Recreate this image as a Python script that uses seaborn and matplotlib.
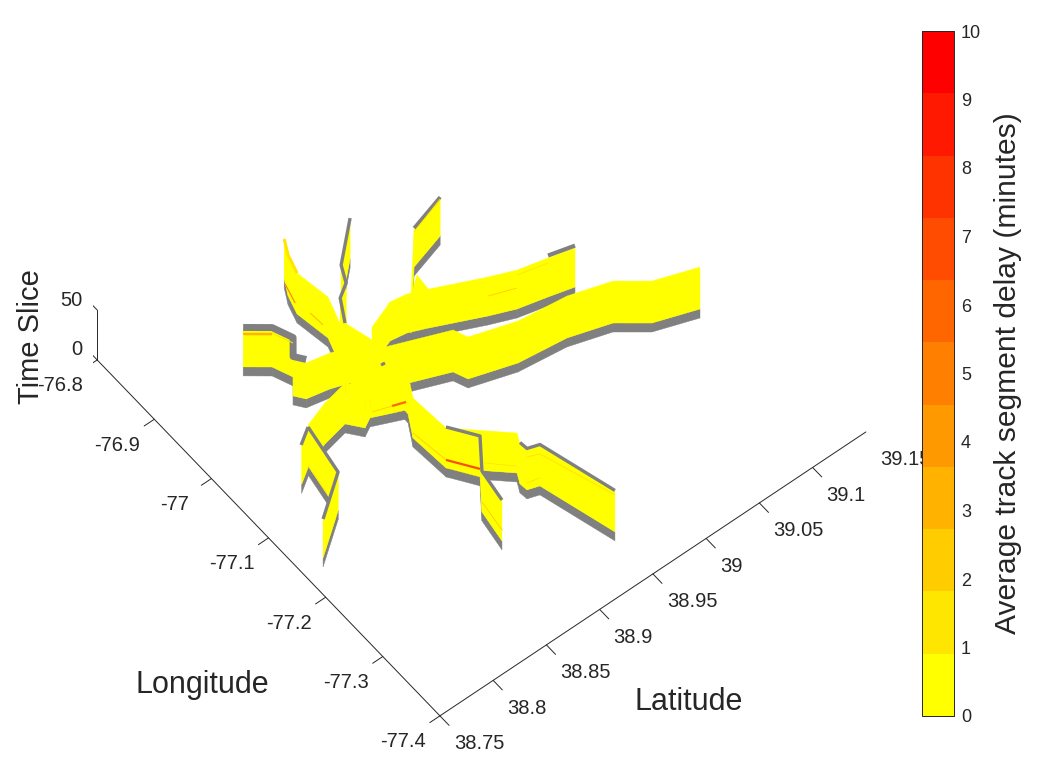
import numpy as np
import matplotlib
matplotlib.use('Agg')
import matplotlib.pyplot as plt
from matplotlib.cm import ScalarMappable
from matplotlib.colors import ListedColormap, Normalize
from mpl_toolkits.mplot3d import proj3d
from mpl_toolkits.mplot3d.art3d import Poly3DCollection
import seaborn as sns

###########################################################################
# Data
###########################################################################

lat_ticks = [38.75, 38.8, 38.85, 38.9, 38.95, 39, 39.05, 39.1, 39.15]
lat_labels = ['38.75', '38.8', '38.85', '38.9', '38.95', '39', '39.05', '39.1', '39.15']
lon_ticks = [-77.4, -77.3, -77.2, -77.1, -77, -76.9, -76.8]
lon_labels = ['-77.4', '-77.3', '-77.2', '-77.1', '-77', '-76.9', '-76.8']
time_ticks = [0, 50]
time_labels = ['0', '50']
delay_ticks = list(range(11))

# track centre lines
lat_a = [39.1179, 39.0827, 39.0604, 39.0259, 38.9841, 38.9467, 38.9420, 38.9136, 38.8937]
lon_a = [-77.1695, -77.1510, -77.1243, -77.1082, -77.1004, -77.0826, -77.0651, -77.0480, -77.0360]
lat_b = [39.0585, 39.0376, 39.0133, 38.9928, 38.9525, 38.9372, 38.9230, 38.8990, 38.8937]
lon_b = [-77.0614, -77.0531, -77.0443, -77.0316, -77.0035, -76.9936, -76.9902, -77.0036, -77.0360]
lat_c = [39.0095, 38.9775, 38.9394]
lon_c = [-76.9167, -76.9307, -76.9964]
lat_c2 = [38.9394, 38.9539, 38.9525]
lon_c2 = [-76.9964, -76.9799, -77.0018]
lat_d = [38.9453, 38.9143, 38.9072, 38.8956, 38.8846, 38.8937]
lon_d = [-76.8787, -76.9208, -76.9427, -76.9540, -76.9830, -77.0360]
lat_e = [38.8247, 38.8412, 38.8477, 38.8373, 38.8431, 38.8623, 38.8821, 38.8937]
lon_e = [-76.9163, -76.9362, -76.9608, -76.9803, -76.9923, -76.9984, -77.0087, -77.0360]
lat_f = [38.8966, 38.8895, 38.8847, 38.8873, 38.8892, 38.8796, 38.8937]
lon_f = [-76.8541, -76.8742, -76.8989, -76.9256, -76.9447, -76.9888, -77.0360]
lat_h = [38.8937, 38.8616]
lon_h = [-77.0360, -77.0347]
lat_g = [38.8937, 38.8947, 38.8692, 38.8608, 38.8516, 38.8291, 38.8073]
lon_g = [-77.0360, -77.0726, -77.0555, -77.0624, -77.0446, -77.0514, -77.0624]
lat_g1 = [38.8073, 38.7997, 38.7652]
lon_g1 = [-77.0624, -77.1291, -77.1671]
lat_g2 = [38.8073, 38.7934]
lon_g2 = [-77.0624, -77.0761]
lat_i = [38.8937, 38.8931, 38.8827, 38.8851, 38.8996, 38.8814, 38.8769]
lon_i = [-77.0360, -77.0774, -77.1055, -77.1588, -77.1913, -77.2286, -77.2721]
lat_k = [38.8851, 38.9229, 38.9186, 38.9193, 38.9289, 38.9465]
lon_k = [-77.1588, -77.2126, -77.2259, -77.2368, -77.2416, -77.3401]

# far to near, with the height of the yellow part of each track
tracks = [(lat_d, lon_d, 50), (lat_f, lon_f, 50), (lat_c, lon_c, 47), (lat_c2, lon_c2, 47),
          (lat_b, lon_b, 48), (lat_a, lon_a, 51), (lat_e, lon_e, 45), (lat_k, lon_k, 49),
          (lat_h, lon_h, 50), (lat_g, lon_g, 50), (lat_g2, lon_g2, 47), (lat_g1, lon_g1, 47),
          (lat_i, lon_i, 49)]

# segments with a delay: lat, lon, time slice, minutes, line width
segments = [
    ([38.8247, 38.8412], [-76.9163, -76.9362], [42, 42], 3, 1.8),
    ([38.8412, 38.8477], [-76.9362, -76.9608], [43, 43], 1, 0.7),
    ([38.8966, 38.8895, 38.8847], [-76.8541, -76.8742, -76.8989], [49, 50, 50], 1, 2.2),
    ([38.8949, 38.8858], [-76.8588, -76.8934], [8, 16], 5, 0.8),
    ([38.8867, 38.8886], [-76.9180, -76.9372], [20, 18], 3, 0.7),
    ([38.8845, 38.8942], [-77.0655, -77.0720], [16, 17], 6, 1.6),
    ([38.8714, 38.8845], [-77.0549, -77.0655], [13, 16], 2, 0.6),
    ([38.8851, 38.8996], [-77.1588, -77.1913], [17, 17], 7, 1.6),
    ([38.8827, 38.8851], [-77.1055, -77.1588], [14, 17], 2, 0.6),
    ([38.9046, 38.9229], [-77.1872, -77.2126], [17, 16], 1, 0.6),
    ([38.8814, 38.8769], [-77.2286, -77.2721], [19, 20], 2, 0.6),
    ([38.9289, 38.9465], [-77.2416, -77.3401], [41, 46], 1, 0.7),
    ([38.9193, 38.9289], [-77.2368, -77.2416], [42, 41], 1, 0.7),
    ([38.9193, 38.9289], [-77.2368, -77.2416], [16, 17], 1, 0.7),
    ([38.8073, 38.8027], [-77.0624, -77.1041], [9, 10], 1, 0.6),
    ([39.0376, 39.0133], [-77.0531, -77.0443], [43, 43], 1, 0.6),
    ([39.0133, 38.9928], [-77.0443, -77.0316], [30, 29], 2, 0.6),
    ([39.0095, 38.9775], [-76.9167, -76.9307], [46, 44], 1, 0.7),
]

# grey upper edges: lat, lon, time slice, line width
top_edges = [
    (lat_e[:5], lon_e[:5], 48.5, 5),
    (lat_d[:5], lon_d[:5], 50, 2.4),
    (lat_c[:2], lon_c[:2], 48, 2.6),
    (lat_b[:2], lon_b[:2], 50.5, 3),
    (lat_g1, lon_g1, 48, 2.4),
    (lat_g2, lon_g2, 48, 2.4),
    (lat_i[3:], lon_i[3:], 50, 2.4),
    (lat_k[2:], lon_k[2:], 50.5, 2.4),
    ([38.8903, 38.8937], [-77.0354, -77.0360], 35, 2.2),
]

###########################################################################
# Helpers
###########################################################################

def curtain(lat, lon, z0, z1):
    verts = []
    for i in range(len(lat) - 1):
        verts.append([(lat[i], lon[i], z0), (lat[i + 1], lon[i + 1], z0),
                      (lat[i + 1], lon[i + 1], z1), (lat[i], lon[i], z1)])
    return verts


def tick_label(ax, text, lat, lon, z, offset, ha):
    x, y, _ = proj3d.proj_transform(lat, lon, z, ax.get_proj())
    ax.annotate(text, xy=(x, y), xytext=offset, textcoords='offset pixels', ha=ha, va='center',
                fontsize=14.5, color=ink, annotation_clip=False)

###########################################################################
# Plot
###########################################################################

sns.set_style('white')
plt.rcParams['font.family'] = ['Liberation Sans', 'DejaVu Sans']
ink = '#262626'
grey = '#808080'

levels = sns.blend_palette(['#ffff00', '#ff0000'], 11)
cmap = ListedColormap(levels)
norm = Normalize(0, 10)

fig = plt.figure(figsize=(10.6, 7.82), dpi=100)
ax = fig.add_axes([93.3 / 1060, 22.8 / 782, 756 / 1060, 756 / 782], projection='3d',
                  computed_zorder=False)
ax.set_proj_type('ortho')
ax.set_box_aspect((546, 548.4, 90))
ax.view_init(elev=56.3, azim=-128.7)
ax.set_xlim(38.75, 39.15)
ax.set_ylim(-77.4, -76.8)
ax.set_zlim(0, 50)

# grey bases first, then the yellow walls over them
order = 10
for lat, lon, top in tracks:
    ax.add_collection3d(Poly3DCollection(curtain(lat, lon, 0, 9), facecolor=grey, edgecolor=grey,
                                         linewidth=0.3, zorder=order))
    order += 1
for lat, lon, top in tracks:
    ax.add_collection3d(Poly3DCollection(curtain(lat, lon, 9, top), facecolor=levels[0],
                                         edgecolor=levels[0], linewidth=0.3, zorder=order))
    order += 1

for lat, lon, z, lw in top_edges:
    ax.plot(lat, lon, z, color=grey, lw=lw, solid_capstyle='butt', zorder=order)

for lat, lon, z, minutes, lw in segments:
    ax.plot(lat, lon, z, color=cmap(norm(minutes)), lw=lw, solid_capstyle='butt', zorder=order + 1)

# axes
ax.grid(False)
ax.set_xticks(lat_ticks, labels=[''] * len(lat_ticks))
ax.set_yticks(lon_ticks, labels=[''] * len(lon_ticks))
ax.set_zticks(time_ticks, labels=[''] * len(time_ticks))
for axis in (ax.xaxis, ax.yaxis, ax.zaxis):
    axis.set_pane_color((1, 1, 1, 0))
    axis.pane.set_edgecolor((1, 1, 1, 0))
    axis.line.set_color(ink)
    axis.line.set_linewidth(0.7)
    axis._axinfo['tick']['inward_factor'] = 0
    axis._axinfo['tick']['outward_factor'] = 0

# ticks point away from the box, the way the original axes draw them
for value, text in zip(lat_ticks, lat_labels):
    ax.plot([value, value], [-77.4, -77.416], [0, 0], color=ink, lw=0.7, zorder=1)
    tick_label(ax, text, value, -77.4, 0, (14, -28), 'left')
for value, text in zip(lon_ticks, lon_labels):
    ax.plot([38.75, 38.7405], [value, value], [0, 0], color=ink, lw=0.7, zorder=1)
    tick_label(ax, text, 38.75, value, 0, (-37, -26), 'center')
for value, text in zip(time_ticks, time_labels):
    ax.plot([38.75, 38.75], [-76.8, -76.784], [value, value], color=ink, lw=0.7, zorder=1)
    tick_label(ax, text, 38.75, -76.8, value, (-15, 10), 'right')

fig.text(689 / 1060, 1 - 702 / 782, 'Latitude', fontsize=22, color=ink, ha='center', va='center')
fig.text(202 / 1060, 1 - 685 / 782, 'Longitude', fontsize=22, color=ink, ha='center', va='center')
fig.text(31 / 1060, 1 - 337 / 782, 'Time Slice', fontsize=21, color=ink, ha='center', va='center',
         rotation=90)

# colour bar
cax = fig.add_axes([922 / 1060, 1 - 716 / 782, 32 / 1060, 685 / 782])
cbar = fig.colorbar(ScalarMappable(norm=norm, cmap=cmap), cax=cax, ticks=delay_ticks)
cbar.ax.tick_params(labelsize=13, labelcolor=ink, color=ink, direction='in', length=4, width=0.7, pad=5)
cbar.outline.set_edgecolor(ink)
cbar.outline.set_linewidth(0.7)
cbar.set_label('Average track segment delay (minutes)', fontsize=21.6, color=ink, labelpad=9)

fig.savefig('out.png', dpi=100)
plt.close('all')
